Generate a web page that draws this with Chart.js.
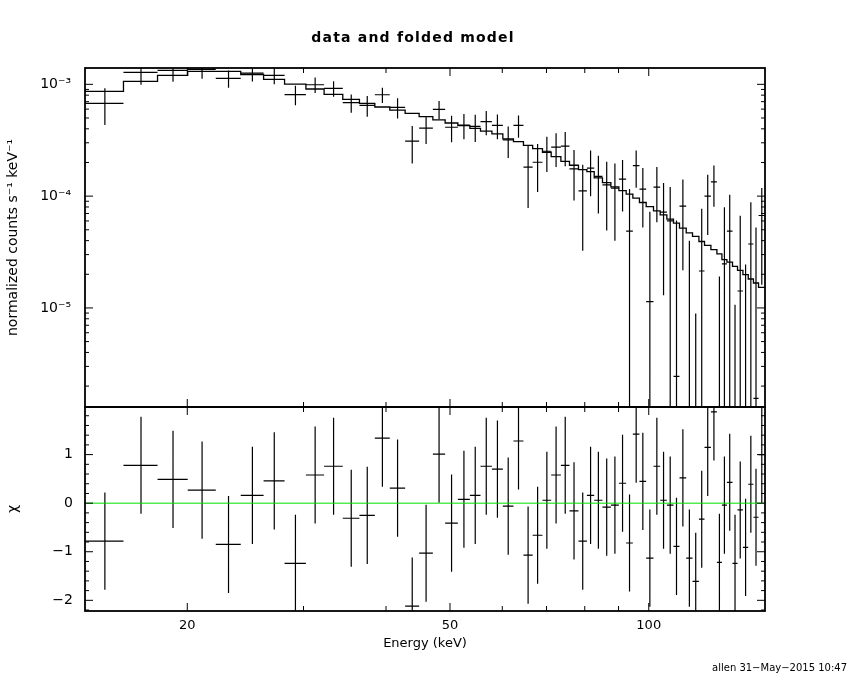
<!DOCTYPE html>
<html><head><meta charset="utf-8">
<script src="https://cdn.jsdelivr.net/npm/chart.js@4.4.0/dist/chart.umd.min.js"></script>
<style>
html,body{margin:0;padding:0;background:#fff;}
#wrap{position:relative;width:850px;height:680px;background:#fff;}
canvas{position:absolute;left:0;top:0;}
</style></head><body>
<div id="wrap"><canvas id="cTop" width="850" height="680"></canvas><canvas id="cBot" width="850" height="680"></canvas></div>
<script>
// ---- data (energy bins in keV) ----
const binEdges = [14.00, 16.01, 18.03, 20.03, 22.09, 24.10, 26.10, 28.08, 30.25, 32.23,
  34.40, 36.46, 38.47, 40.53, 42.76, 44.90, 47.10, 49.16, 51.39, 53.59,
  55.61, 57.87, 60.12, 62.39, 64.60, 66.71, 69.03, 71.16, 73.61, 75.85,
  78.27, 80.60, 82.68, 85.10, 87.63, 90.11, 92.43, 94.61, 96.81, 99.11,
  101.67, 104.07, 106.53, 109.01, 111.32, 113.96, 116.49, 119.12, 121.47, 124.21,
  126.84, 129.07, 131.34, 133.93, 136.29, 138.88, 141.48, 144.07, 146.66, 150.0];

const countRates = [6.77e-4, 1.279e-3, 1.334e-3, 1.361e-3, 1.131e-3, 1.26e-3, 1.203e-3, 8.1e-4, 9.92e-4, 9.21e-4,
  6.85e-4, 6.49e-4, 8.07e-4, 6.23e-4, 3.10e-4, 4.05e-4, 5.98e-4, 4.13e-4, 4.33e-4, 4.2e-4,
  4.64e-4, 4.30e-4, 3.19e-4, 4.30e-4, 1.815e-4, 2.01e-4, 2.52e-4, 2.74e-4, 2.80e-4, 1.752e-4,
  1.115e-4, 1.78e-4, 1.50e-4, 1.262e-4, 1.18e-4, 1.418e-4, 4.87e-5, 1.876e-4, 1.155e-4, 1.138e-5,
  1.203e-4, 7.2e-5, 6.0e-5, 2.44e-6, 8.14e-5, -1.4e-5, -4.8e-5, 2.14e-5, 1.0e-4, 1.342e-4,
  -3.25e-5, 2.48e-5, 4.87e-5, -4.26e-5, 1.418e-5, -2.75e-5, 3.73e-5, 1.55e-6, 6.71e-5];

const countErrors = [2.44e-4, 2.87e-4, 2.79e-4, 2.4e-4, 2.0e-4, 2.0e-4, 2.0e-4, 1.6e-4, 1.57e-4, 1.45e-4,
  1.28e-4, 1.36e-4, 1.25e-4, 1.28e-4, 1.14e-4, 1.12e-4, 1.1e-4, 1.1e-4, 1.1e-4, 1.15e-4,
  1.13e-4, 1.08e-4, 1.0e-4, 9.7e-5, 1.03e-4, 9.2e-5, 8.8e-5, 9.2e-5, 9.5e-5, 8.4e-5,
  7.9e-5, 7.8e-5, 8.0e-5, 7.7e-5, 7.8e-5, 6.9e-5, 6.7e-5, 6.9e-5, 6.3e-5, 6.1e-5,
  6.2e-5, 5.9e-5, 6.1e-5, 5.8e-5, 5.97e-5, 5.4e-5, 5.69e-5, 5.56e-5, 5.5e-5, 5.4e-5,
  5.16e-5, 5.49e-5, 5.4e-5, 5.33e-5, 5.25e-5, 5.2e-5, 5.1e-5, 5.09e-5, 5.1e-5];

const modelRates = [8.66e-4, 1.064e-3, 1.203e-3, 1.306e-3, 1.306e-3, 1.225e-3, 1.108e-3, 1.006e-3, 9.08e-4, 8.14e-4,
  7.35e-4, 6.77e-4, 6.27e-4, 5.89e-4, 5.51e-4, 5.14e-4, 4.80e-4, 4.51e-4, 4.27e-4, 4.03e-4,
  3.81e-4, 3.60e-4, 3.25e-4, 3.07e-4, 2.85e-4, 2.66e-4, 2.47e-4, 2.26e-4, 2.05e-4, 1.89e-4,
  1.728e-4, 1.658e-4, 1.457e-4, 1.322e-4, 1.21e-4, 1.122e-4, 1.042e-4, 9.6e-5, 8.77e-5, 8.07e-5,
  7.39e-5, 6.81e-5, 6.23e-5, 5.74e-5, 5.18e-5, 4.70e-5, 4.36e-5, 3.93e-5, 3.62e-5, 3.32e-5,
  3.05e-5, 2.70e-5, 2.57e-5, 2.35e-5, 2.17e-5, 1.983e-5, 1.815e-5, 1.672e-5, 1.527e-5];

const chiResiduals = [-0.78, 0.78, 0.49, 0.27, -0.85, 0.16, 0.46, -1.24, 0.58, 0.76,
  -0.31, -0.25, 1.34, 0.31, -2.12, -1.03, 1.01, -0.41, 0.08, 0.16,
  0.76, 0.70, -0.06, 1.28, -1.07, -0.66, 0.06, 0.58, 0.78, -0.16,
  -0.78, 0.16, 0.06, -0.08, -0.04, 0.41, -0.82, 1.42, 0.45, -1.13,
  0.76, 0.06, -0.04, -0.89, 0.52, -1.13, -1.61, -0.33, 1.15, 1.88,
  -1.22, -0.04, 0.43, -1.24, -0.14, -0.91, 0.39, -0.29, 1.0];
const chiError = 1;

// ---- axes / ticks ----
const energyMin = 14, energyMax = 150;
const countMin = 1.3e-6, countMax = 1.4e-3;
const chiMin = -2.22, chiMax = 1.98;
const energyTicks = [20, 30, 40, 50, 60, 70, 80, 90, 100];
const energyLabelValues = [20, 50, 100];
const energyLabelTexts = ['20', '50', '100'];
const countTicks = [2e-6,3e-6,4e-6,5e-6,6e-6,7e-6,8e-6,9e-6,1e-5,2e-5,3e-5,4e-5,5e-5,6e-5,7e-5,8e-5,9e-5,
  1e-4,2e-4,3e-4,4e-4,5e-4,6e-4,7e-4,8e-4,9e-4,1e-3];
const countLabelValues = [1e-5, 1e-4, 1e-3];
const countLabelTexts = ['10\u207B\u2075', '10\u207B\u2074', '10\u207B\u00B3'];
const chiTicks = [-2.2,-2.0,-1.8,-1.6,-1.4,-1.2,-1.0,-0.8,-0.6,-0.4,-0.2,0,0.2,0.4,0.6,0.8,1.0,1.2,1.4,1.6,1.8];
const chiLabelValues = [-2, -1, 0, 1];
const chiLabelTexts = ['\u22122', '\u22121', '0', '1'];

const FONT = 'DejaVu Sans';

// ---- build datasets from arrays ----
const nBins = countRates.length;
const lo = i => binEdges[i], hi = i => binEdges[i + 1], mid = i => (binEdges[i] + binEdges[i + 1]) / 2;

function crossPoints(vals, errs, isLog, floorVal) {
  const pts = [];
  for (let i = 0; i < vals.length; i++) {
    const v = vals[i];
    const e = Array.isArray(errs) ? errs[i] : errs;
    const hv = (isLog && v <= 0) ? null : v;
    pts.push({x: lo(i), y: hv}, {x: hi(i), y: hv}, {x: mid(i), y: null});
    let a = v - e, b = v + e;
    if (isLog) { if (a <= 0) a = floorVal; if (b <= 0) b = floorVal; }
    pts.push({x: mid(i), y: a}, {x: mid(i), y: b}, {x: mid(i), y: null});
  }
  return pts;
}
const modelPts = [];
for (let i = 0; i < nBins; i++) modelPts.push({x: lo(i), y: modelRates[i]}, {x: hi(i), y: modelRates[i]});

const sameVal = (m, v) => Math.abs(m - v) < 1e-9 || (m !== 0 && Math.abs((m - v) / m) < 1e-6);
function labelFor(values, texts) {
  return (val) => {
    const k = values.findIndex(v => sameVal(v, val));
    return k >= 0 ? texts[k] : '';
  };
}

// ---- plugins ----
const frameTicks = {
  id: 'frameTicks',
  afterDatasetsDraw(chart, args, o) {
    const {ctx, chartArea: a, scales} = chart;
    ctx.save();
    ctx.strokeStyle = '#000';
    ctx.lineWidth = 1;
    const seg = (x1, y1, x2, y2) => { ctx.beginPath(); ctx.moveTo(x1, y1); ctx.lineTo(x2, y2); ctx.stroke(); };
    o.xTicks.forEach(v => {
      const px = scales.x.getPixelForValue(v);
      const len = o.xMajor.includes(v) ? 8 : 5;
      seg(px, a.top, px, a.top + len);
      seg(px, a.bottom, px, a.bottom - len);
    });
    o.yTicks.forEach(v => {
      const py = scales.y.getPixelForValue(v);
      const len = o.yMajor.some(m => sameVal(m, v)) ? 8 : 4;
      seg(a.left, py, a.left + len, py);
      seg(a.right, py, a.right - len, py);
    });
    ctx.lineWidth = 1.8;
    ctx.strokeRect(a.left, a.top, a.right - a.left, a.bottom - a.top);
    ctx.restore();
  }
};
const pageText = {
  id: 'pageText',
  afterDraw(chart, args, o) {
    const ctx = chart.ctx;
    ctx.save();
    ctx.fillStyle = '#000';
    ctx.textBaseline = 'middle';
    ctx.font = o.titleFont;
    ctx.textAlign = 'center';
    if ('letterSpacing' in ctx) ctx.letterSpacing = o.titleSpacing;
    ctx.fillText(o.title, o.titleX, o.titleY);
    if ('letterSpacing' in ctx) ctx.letterSpacing = '0px';
    ctx.font = o.footFont;
    ctx.textAlign = 'right';
    ctx.fillText(o.foot, o.footX, o.footY);
    ctx.restore();
  }
};

// ---- top panel: data and folded model ----
new Chart(document.getElementById('cTop'), {
  type: 'scatter',
  data: {datasets: [
    {data: modelPts, showLine: true, borderColor: '#000', borderWidth: 1.3, pointRadius: 0, tension: 0},
    {data: crossPoints(countRates, countErrors, true, countMin / 100), showLine: true, borderColor: '#000', borderWidth: 1.2, pointRadius: 0, tension: 0}
  ]},
  options: {
    responsive: false, animation: false, devicePixelRatio: 1,
    layout: {padding: {left: 0, top: 68, right: 85, bottom: 273}},
    plugins: {
      legend: {display: false}, tooltip: {enabled: false},
      frameTicks: {xTicks: energyTicks, xMajor: energyLabelValues, yTicks: countTicks, yMajor: countLabelValues},
      pageText: {title: 'data and folded model', titleX: 413, titleY: 38, titleFont: 'bold 14px "DejaVu Sans"', titleSpacing: '1.2px',
                 foot: 'allen 31\u2212May\u22122015 10:47', footX: 847, footY: 668, footFont: '10px "DejaVu Sans"'}
    },
    scales: {
      x: {type: 'logarithmic', min: energyMin, max: energyMax, display: false},
      y: {type: 'logarithmic', min: countMin, max: countMax, position: 'left',
          grid: {display: false, drawTicks: false}, border: {display: false},
          afterBuildTicks: s => { s.ticks = countLabelValues.map(v => ({value: v})); },
          afterFit: s => { s.width = 85; },
          ticks: {autoSkip: false, padding: 14, color: '#000', font: {family: FONT, size: 14},
                  callback: labelFor(countLabelValues, countLabelTexts)},
          title: {display: true, text: 'normalized counts s\u207B\u00B9 keV\u207B\u00B9', color: '#000',
                  font: {family: FONT, size: 14}, padding: {top: 5, bottom: 0}}}
    }
  },
  plugins: [frameTicks, pageText]
});

// ---- bottom panel: residuals ----
new Chart(document.getElementById('cBot'), {
  type: 'scatter',
  data: {datasets: [
    {data: [{x: binEdges[0], y: 0}, {x: binEdges[nBins], y: 0}], showLine: true, borderColor: '#00e000', borderWidth: 1, pointRadius: 0},
    {data: crossPoints(chiResiduals, chiError, false, 0), showLine: true, borderColor: '#000', borderWidth: 1.2, pointRadius: 0, tension: 0}
  ]},
  options: {
    responsive: false, animation: false, devicePixelRatio: 1,
    layout: {padding: {left: 0, top: 407, right: 85, bottom: 29}},
    plugins: {
      legend: {display: false}, tooltip: {enabled: false},
      frameTicks: {xTicks: energyTicks, xMajor: energyLabelValues, yTicks: chiTicks, yMajor: chiLabelValues}
    },
    scales: {
      x: {type: 'logarithmic', min: energyMin, max: energyMax, position: 'bottom',
          grid: {display: false, drawTicks: false}, border: {display: false},
          afterBuildTicks: s => { s.ticks = energyLabelValues.map(v => ({value: v})); },
          afterFit: s => { s.height = 40; },
          ticks: {autoSkip: false, maxRotation: 0, padding: 7, color: '#000', font: {family: FONT, size: 13},
                  callback: labelFor(energyLabelValues, energyLabelTexts)},
          title: {display: true, text: 'Energy (keV)', color: '#000', font: {family: FONT, size: 13}, padding: {top: 0, bottom: 0}}},
      y: {type: 'linear', min: chiMin, max: chiMax, position: 'left',
          grid: {display: false, drawTicks: false}, border: {display: false},
          afterBuildTicks: s => { s.ticks = chiLabelValues.map(v => ({value: v})); },
          afterFit: s => { s.width = 85; },
          ticks: {autoSkip: false, padding: 12, color: '#000', font: {family: FONT, size: 14},
                  callback: labelFor(chiLabelValues, chiLabelTexts)},
          title: {display: true, text: '\u03C7', color: '#000', font: {family: FONT, size: 14}, padding: {top: 5, bottom: 0}}}
    }
  },
  plugins: [frameTicks]
});
</script>
</body></html>
